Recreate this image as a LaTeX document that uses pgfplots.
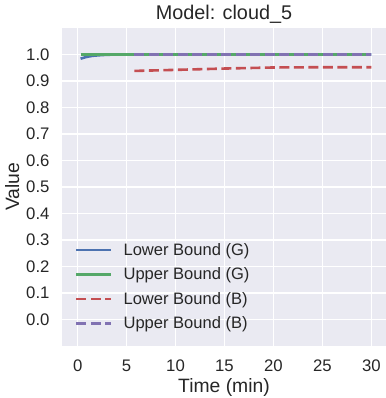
\documentclass[border=0pt]{standalone}
\usepackage{pgfplots}
\pgfplotsset{compat=1.18}
\usepackage{fontspec}
\setmainfont{Liberation Sans}
\definecolor{sbbg}{HTML}{EAEAF2}
\definecolor{sbblue}{HTML}{4C72B0}
\definecolor{sbgreen}{HTML}{55A868}
\definecolor{sbred}{HTML}{C44E52}
\definecolor{sbpurple}{HTML}{8172B2}
\definecolor{txt}{HTML}{262626}
\begin{document}
\begin{tikzpicture}
\begin{axis}[
  scale only axis,
  width=324bp, height=318bp,
  xmin=-1.6, xmax=31.5,
  ymin=-0.1, ymax=1.1,
  xtick={0,5,10,15,20,25,30},
  ytick={0,0.1,0.2,0.3,0.4,0.5,0.6,0.7,0.8,0.9,1.0},
  yticklabel style={/pgf/number format/fixed, /pgf/number format/fixed zerofill, /pgf/number format/precision=1},
  /pgf/number format/assume math mode=true,
  axis background/.style={fill=sbbg},
  axis line style={draw=none},
  major tick length=0pt,
  grid=major,
  major grid style={white, line width=1.4bp},
  tick label style={font=\fontsize{16.8}{20}\selectfont, text=txt},
  xticklabel style={yshift=-10bp},
  yticklabel style={xshift=-9bp},
  label style={font=\fontsize{19.4}{23}\selectfont, text=txt},
  ylabel style={xshift=0bp},
  xlabel={Time (min)},
  ylabel={Value},
  title={Model: cloud\_5},
  title style={font=\fontsize{19.9}{24}\selectfont, text=txt, yshift=-5bp},
  legend style={draw=none, fill=none, at={(axis cs:-0.6,-0.056)}, anchor=south west,
    font=\fontsize{16.6}{20}\selectfont, text=txt, row sep=7bp},
  legend cell align=left,
  legend image code/.code={\draw[#1, line width=2.6bp] (0bp,0bp) -- (35bp,0bp); \path (44bp,0bp);},
]
\addplot[sbblue, line width=2.6bp] coordinates {(0.3,0.984) (0.8,0.990) (1.5,0.995) (2.5,0.998) (3.5,0.9995) (5,1.0) (30,1.0)};
\addlegendentry{Lower Bound (G)}
\addplot[sbgreen, line width=2.6bp] coordinates {(0.3,1.0) (30,1.0)};
\addlegendentry{Upper Bound (G)}
\addplot[sbred, line width=2.6bp, dash pattern=on 10bp off 4.5bp] coordinates {(5.8,0.938) (10,0.942) (15,0.947) (20,0.951) (25,0.952) (30,0.952)};
\addlegendentry{Lower Bound (B)}
\addplot[sbpurple, line width=2.6bp, dash pattern=on 10bp off 4.5bp] coordinates {(5.8,1.0) (30,1.0)};
\addlegendentry{Upper Bound (B)}
\end{axis}
\pgfresetboundingbox
\useasboundingbox (-62bp,-52bp) rectangle (324bp,346bp);
\end{tikzpicture}
\end{document}
